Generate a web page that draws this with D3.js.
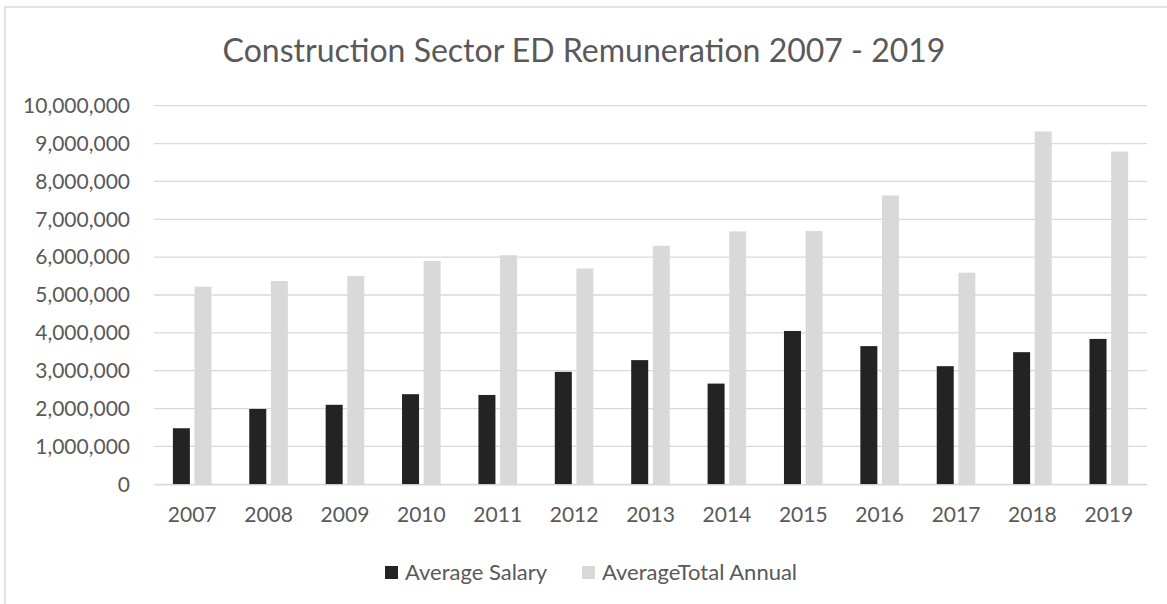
<!DOCTYPE html>
<html>
<meta charset="UTF-8" />
<script src="https://cdn.jsdelivr.net/npm/d3@7/dist/d3.min.js"></script>
<style>
*{margin:0; padding:0;}
body{background:#ffffff; width:1167px; height:604px; overflow:hidden;}
text{font-family:Lato, "Open Sans", sans-serif; fill:#595959;}
</style>
<body>
<div id="chart"></div>
<script>
// data
var years = ["2007","2008","2009","2010","2011","2012","2013","2014","2015","2016","2017","2018","2019"];
var salary = [1480000,1990000,2100000,2380000,2360000,2970000,3280000,2660000,4050000,3650000,3120000,3490000,3840000];
var total = [5220000,5370000,5500000,5900000,6050000,5700000,6300000,6680000,6690000,7630000,5590000,9320000,8790000];
var seriesNames = ["Average Salary","AverageTotal Annual"];
var seriesColors = ["#232323","#d9d9d9"];
var yTicks = [0,1000000,2000000,3000000,4000000,5000000,6000000,7000000,8000000,9000000,10000000];

var width = 1167, height = 604;
var svg = d3.select("#chart").append("svg")
	.attr("width", width)
	.attr("height", height);

// outer frame (only left/top edges are visible)
svg.append("rect")
	.attr("x", 5).attr("y", 7)
	.attr("width", 1200).attr("height", 640)
	.attr("fill", "none")
	.attr("stroke", "#d9d9d9")
	.attr("stroke-width", 1.5);

var plotLeft = 154, plotRight = 1147, plotTop = 105.7, plotBottom = 484.3;

var x = d3.scaleBand().domain(years).range([plotLeft, plotRight]).padding(0);
var xs = d3.scaleBand().domain([0,1]).range([0, x.bandwidth()])
	.paddingInner(0.213).paddingOuter(0.874);
var y = d3.scaleLinear().domain([0, 10000000]).range([plotBottom, plotTop]);

// gridlines
svg.append("g")
	.selectAll("line")
	.data(yTicks)
	.enter().append("line")
	.attr("x1", plotLeft).attr("x2", plotRight)
	.attr("y1", d => y(d)).attr("y2", d => y(d))
	.attr("stroke", "#d9d9d9")
	.attr("stroke-width", 1.3);

// y axis labels
var fmt = d3.format(",");
var yAxis = d3.axisLeft(y).tickValues(yTicks).tickFormat(d => fmt(d)).tickSize(0).tickPadding(0);
var ya = svg.append("g").attr("transform", "translate(130,0)").call(yAxis);
ya.select(".domain").remove();
ya.selectAll("text").style("font-size", "21px").attr("fill", "#595959").style("font-family", "Lato");

// bars
var data = [salary, total];
svg.append("g").selectAll("g")
	.data(data)
	.enter().append("g")
	.attr("fill", (d, i) => seriesColors[i])
	.each(function (vals, si) {
		d3.select(this).selectAll("rect")
			.data(vals)
			.enter().append("rect")
			.attr("x", (d, i) => x(years[i]) + xs(si))
			.attr("width", xs.bandwidth())
			.attr("y", d => y(d))
			.attr("height", d => plotBottom - y(d));
	});

// x axis
var xAxis = d3.axisBottom(x).tickSize(0).tickPadding(0);
var xa = svg.append("g").attr("transform", "translate(0," + plotBottom + ")").call(xAxis);
xa.select(".domain").attr("stroke", "#d9d9d9").attr("stroke-width", 1.3);
xa.selectAll("text").attr("dy", null).attr("y", 38)
	.style("font-size", "21px").attr("fill", "#595959").style("font-family", "Lato");

// title
svg.append("text")
	.attr("x", 584).attr("y", 62)
	.attr("text-anchor", "middle")
	.style("font-size", "32px")
	.text("Construction Sector ED Remuneration 2007 - 2019");

// legend
var legendX = [385, 582];
var lg = svg.append("g").selectAll("g")
	.data(seriesNames)
	.enter().append("g")
	.attr("transform", (d, i) => "translate(" + legendX[i] + ",0)");
lg.append("rect")
	.attr("x", 0).attr("y", 566)
	.attr("width", 13).attr("height", 13)
	.attr("fill", (d, i) => seriesColors[i]);
lg.append("text")
	.attr("x", 20).attr("y", 580)
	.style("font-size", "22px")
	.text(d => d);
</script>
</body>
</html>
